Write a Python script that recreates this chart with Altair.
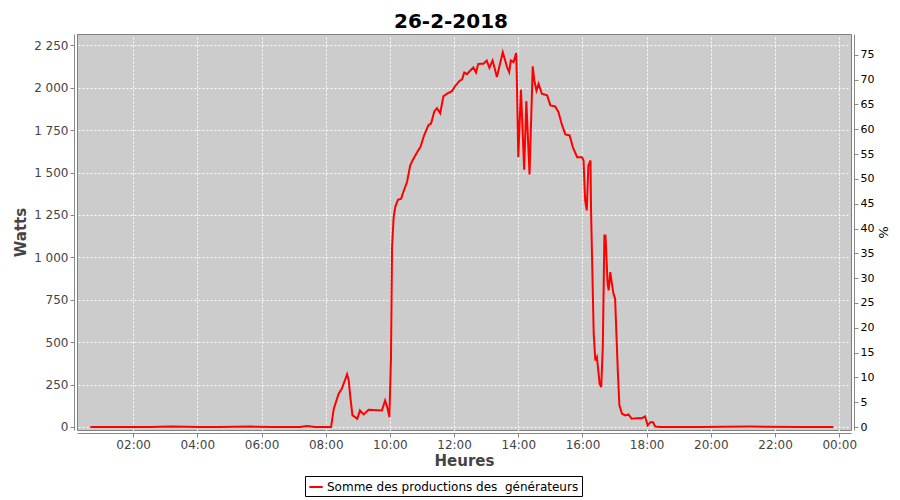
import altair as alt
import pandas as pd

# Time of day (26-2-2018) and production in watts
times = [
    "00:40", "01:30", "02:32", "03:10", "04:05", "04:40", "05:39", "06:20", "07:12", "07:25", "07:40", "08:08",
    "08:10", "08:15", "08:24", "08:30", "08:40", "08:43", "08:46", "08:50", "08:55", "08:59",
    "09:04", "09:11", "09:20", "09:45", "09:51", "09:55", "09:59", "10:02", "10:04", "10:07",
    "10:10", "10:15", "10:21", "10:25", "10:32", "10:38", "10:44", "10:53", "10:57", "11:04",
    "11:12", "11:17", "11:23", "11:28", "11:34", "11:40", "11:47", "11:56", "12:02", "12:10",
    "12:15", "12:19", "12:24", "12:30", "12:36", "12:41", "12:45", "12:49", "12:55", "13:01",
    "13:06", "13:12", "13:20", "13:31", "13:39", "13:43", "13:46", "13:51", "13:56", "13:57",
    "14:00", "14:05", "14:11", "14:15", "14:21", "14:27", "14:30", "14:34", "14:38", "14:44",
    "14:54", "15:00", "15:09", "15:15", "15:22", "15:28", "15:36", "15:42", "15:50", "15:59",
    "16:02", "16:05", "16:08", "16:11", "16:15", "16:16", "16:21", "16:24", "16:27", "16:32",
    "16:35", "16:38", "16:41", "16:43", "16:47", "16:49", "16:52", "16:55", "16:58", "17:01",
    "17:06", "17:09", "17:14", "17:20", "17:26", "17:32", "17:42", "17:51", "17:57", "18:02",
    "18:07", "18:12", "18:16", "18:25", "19:40", "21:14", "22:47", "23:49",
]
watts = [
    0, 0, 0, 3, 0, 0, 2, 0, 0, 5, 0, 0,
    0, 106, 195, 225, 310, 275, 176, 68, 58, 48,
    97, 74, 101, 97, 156, 117, 58, 410, 1060, 1238,
    1297, 1340, 1346, 1385, 1444, 1543, 1582, 1631, 1650, 1720,
    1780, 1790, 1860, 1880, 1850, 1950, 1965, 1980, 2010, 2040,
    2050, 2090, 2080, 2100, 2120, 2090, 2140, 2142, 2142, 2161,
    2118, 2161, 2063, 2210, 2122, 2092, 2161, 2151, 2205, 2102,
    1591, 1988, 1517, 1921, 1489, 2126, 2043, 1984, 2024, 1965,
    1955, 1896, 1890, 1857, 1778, 1725, 1719, 1650, 1591, 1591,
    1572, 1336, 1277, 1542, 1571, 1277, 550, 392, 412, 255,
    235, 471, 1129, 1129, 845, 805, 913, 845, 786, 756,
    333, 127, 78, 68, 74, 48, 52, 52, 62, 9,
    28, 28, 3, 0, 0, 2, 0, 0,
]
series_name = "Somme des productions des \u00a0générateurs"

left_ticks = [0, 250, 500, 750, 1000, 1250, 1500, 1750, 2000, 2250]
right_ticks = [0, 5, 10, 15, 20, 25, 30, 35, 40, 45, 50, 55, 60, 65, 70, 75]
hour_ticks = [2, 4, 6, 8, 10, 12, 14, 16, 18, 20, 22]

df = pd.DataFrame({
    "t": ["2018-02-26T" + s + ":00" for s in times],
    "w": watts,
    "serie": series_name,
})
pct_df = pd.DataFrame({"t": ["2018-02-26T12:00:00"], "p": [0]})

FONT = "DejaVu Sans"

x_values = [alt.DateTime(year=2018, month=2, date=26, hours=h, minutes=0) for h in hour_ticks]
x_values.append(alt.DateTime(year=2018, month=2, date=27, hours=0, minutes=0))

x_enc = alt.X(
    "t:T",
    scale=alt.Scale(
        domain=[
            alt.DateTime(year=2018, month=2, date=26, hours=0, minutes=15),
            alt.DateTime(year=2018, month=2, date=27, hours=0, minutes=22),
        ],
        nice=False,
    ),
    axis=alt.Axis(
        values=x_values, format="%H:%M", title="Heures", grid=True,
        labelFontSize=12, titleFontSize=15, titlePadding=3,
    ),
)

line = alt.Chart(df).mark_line(color="red", strokeWidth=2, clip=True).encode(
    x=x_enc,
    y=alt.Y(
        "w:Q",
        scale=alt.Scale(domain=[-18, 2317], nice=False, zero=False),
        axis=alt.Axis(
            values=left_ticks, title="Watts", grid=True,
            labelExpr="replace(format(datum.value, ','), ',', ' ')",
            labelFontSize=12, titleFontSize=15, titlePadding=5,
        ),
    ),
    color=alt.Color(
        "serie:N",
        scale=alt.Scale(range=["#ff0000"]),
        legend=alt.Legend(
            title=None, orient="none", legendX=228, legendY=442,
            strokeColor="black", fillColor="white", padding=3, cornerRadius=0,
            labelFont=FONT, labelFontSize=12, labelColor="black", labelLimit=0,
            symbolType="stroke", symbolStrokeWidth=2, symbolSize=180,
            labelOffset=3,
        ),
    ),
)

pct = alt.Chart(pct_df).mark_point(opacity=0).encode(
    x=alt.X("t:T"),
    y=alt.Y(
        "p:Q",
        scale=alt.Scale(domain=[-0.6, 79.2], nice=False, zero=False),
        axis=alt.Axis(
            orient="right", values=right_ticks, title="%", grid=False,
            labelFontSize=11, labelColor="black", titleColor="black",
            titleFontWeight="normal", titleFontSize=13, titlePadding=2,
        ),
    ),
)

chart = (
    alt.layer(line, pct)
    .resolve_scale(y="independent")
    .properties(
        width=774,
        height=396,
        title=alt.TitleParams(
            "26-2-2018", font=FONT, fontSize=20, fontWeight="bold", color="black",
            anchor="middle", offset=2, dx=-13,
        ),
        autosize=alt.AutoSizeParams(type="none"),
        padding={"left": 69, "top": 26, "right": 41, "bottom": 70},
        background="white",
    )
    .configure_view(fill="#cccccc", stroke="#808080", strokeWidth=1)
    .configure_axis(
        labelFont=FONT, titleFont=FONT, labelColor="#444444", titleColor="#444444",
        titleFontWeight="bold", domainColor="#888888", tickColor="#888888",
        tickSize=4, offset=3, gridColor="white", gridDash=[2, 2], gridWidth=1,
        labelPadding=2,
    )
)

chart.save("out.html", embed_options={"renderer": "svg", "actions": False})
